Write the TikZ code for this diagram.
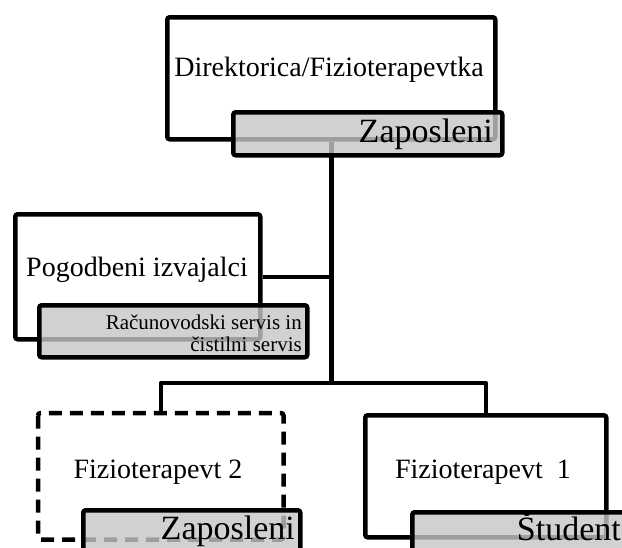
\documentclass[tikz,border=0pt]{standalone}
\usepackage{fontspec}
\setmainfont{Liberation Serif}
\definecolor{grayfill}{HTML}{C6C6C6}
\begin{document}
\begin{tikzpicture}[x=1pt,y=-1pt,
  wbox/.style={draw=black,line width=4.5pt,fill=white,rounded corners=2.5pt,inner sep=0pt,anchor=north west},
  gbox/.style={draw=black,line width=4.5pt,fill=grayfill,fill opacity=0.8,draw opacity=1,rounded corners=2.5pt,inner sep=0pt,anchor=north west},
  conn/.style={draw=black,line width=4.5pt,line join=round},
  maintext/.style={font=\fontsize{28}{32}\selectfont,inner sep=0pt},
  bigtext/.style={font=\fontsize{34}{38}\selectfont,inner sep=0pt,anchor=base east},
  smalltext/.style={font=\fontsize{21}{22}\selectfont,inner sep=0pt,align=right,anchor=south east}]
\useasboundingbox (0,0) rectangle (622,547);
\clip (0,0) rectangle (622,547);
% white boxes
\node[wbox,minimum width=328pt,minimum height=122pt] (dir) at (165,15) {};
\node[wbox,minimum width=245pt,minimum height=125pt] (pog) at (13,212) {};
\node[wbox,minimum width=241pt,minimum height=122pt,draw=none] (f2) at (38,413) {};
\node[wbox,minimum width=241pt,minimum height=122pt] (f1) at (363,413) {};
\draw[line width=4.5pt,dash pattern=on 13pt off 8pt,rounded corners=2.5pt] (f2.north west) rectangle (f2.south east);
% connectors
\coordinate (bar) at (330,383);
\draw[conn] (dir.south) -- (dir.south |- bar);
\draw[conn] (pog.east) -- (pog.east -| dir.south);
\draw[conn] (f2.north) -- (f2.north |- bar) -- (f1.north |- bar) -- (f1.north);
% texts
\node[maintext] (tdir) at (329,70) {Direktorica/Fizioterapevtka};
\node[maintext] (tpog) at (137,270) {Pogodbeni izvajalci};
\node[maintext] (tf2) at (158,472) {Fizioterapevt 2};
\node[maintext] (tf1) at (483,472) {Fizioterapevt\ \ 1};
% gray boxes
\node[gbox,minimum width=269pt,minimum height=43pt] (g0) at (231,110) {};
\node[gbox,minimum width=268pt,minimum height=52pt] (g1) at (37,303) {};
\node[gbox,minimum width=217pt,minimum height=60pt] (g2) at (81,508) {};
\node[gbox,minimum width=230pt,minimum height=60pt] (g3) at (410,510) {};
\node[bigtext] (tg0) at (493,142) {Zaposleni};
\node[smalltext] (tg1) at (302,352) {Računovodski servis in\\čistilni servis};
\node[bigtext] (tg2) at (295,539) {Zaposleni};
\node[bigtext] (tg3) at (621,540) {Študent};
\end{tikzpicture}
\end{document}
